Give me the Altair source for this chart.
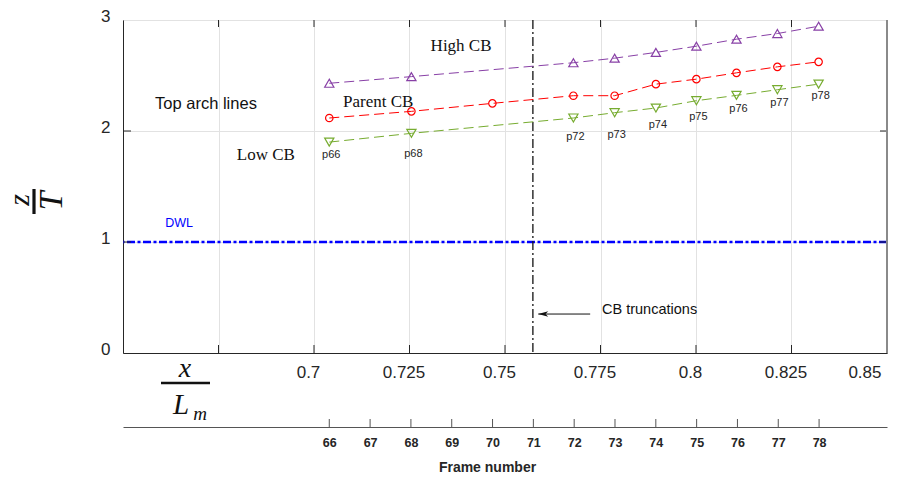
import altair as alt
import pandas as pd

# ---------------- data ----------------
frame_x = {66: 0.7040, 68: 0.7255, 70: 0.7467, 72: 0.7679, 73: 0.7787,
           74: 0.7895, 75: 0.8001, 76: 0.8106, 77: 0.8213, 78: 0.8321}

high_frames = [66, 68, 72, 73, 74, 75, 76, 77, 78]
high_z = [2.43, 2.49, 2.615, 2.656, 2.708, 2.764, 2.827, 2.878, 2.944]

parent_frames = [66, 68, 70, 72, 73, 74, 75, 76, 77, 78]
parent_z = [2.117, 2.177, 2.249, 2.318, 2.318, 2.422, 2.467, 2.524, 2.578, 2.623]

low_frames = [66, 68, 72, 73, 74, 75, 76, 77, 78]
low_z = [1.90, 1.979, 2.117, 2.165, 2.207, 2.273, 2.321, 2.372, 2.422]

point_labels = ["p66", "p68", "p72", "p73", "p74", "p75", "p76", "p77", "p78"]
label_z = [1.781, 1.796, 1.946, 1.967, 2.057, 2.129, 2.195, 2.255, 2.315]

x_ticks = [0.65, 0.675, 0.7, 0.725, 0.75, 0.775, 0.8, 0.825, 0.85]
y_ticks = [0, 1, 2, 3]
frame_ticks = [66, 67, 68, 69, 70, 71, 72, 73, 74, 75, 76, 77, 78]
frame66_x = 0.7040      # x/Lm position of frame 66
frame_step = 0.010685   # x/Lm per frame

dwl_z = 1.0
truncation_x = 0.7573

W, H = 764, 333
SANS = "Liberation Sans"
SERIF = "Liberation Serif"
TXT = "#262626"

# ---------------- tables ----------------
def series(frames, zs, name):
    return pd.DataFrame({"x": [frame_x[f] for f in frames], "z": zs, "s": name})

high_df = series(high_frames, high_z, "High CB")
parent_df = series(parent_frames, parent_z, "Parent CB")
low_df = series(low_frames, low_z, "Low CB")
lab_df = pd.DataFrame({"x": [frame_x[f] for f in low_frames], "z": label_z, "t": point_labels})

xs = alt.Scale(domain=[0.65, 0.85], nice=False, zero=False)
ys = alt.Scale(domain=[0, 3], nice=False, zero=False)

# grid/axes layer
grid_df = pd.DataFrame({"x": x_ticks, "z": [0.0] * len(x_ticks)})
axes_layer = alt.Chart(grid_df).mark_point(opacity=0).encode(
    x=alt.X("x:Q", scale=xs, axis=alt.Axis(
        orient="bottom",
        values=x_ticks, labelExpr="datum.value > 0.69 ? format(datum.value, '.3~f') : ''",
        tickSize=0, labelPadding=11, labelFont=SANS, labelFontSize=17, labelColor=TXT,
        labelOffset=-6, domainColor=TXT, domainWidth=1, grid=True, gridColor="#e2e2e2",
        gridWidth=1, title=None)),
    y=alt.Y("z:Q", scale=ys, axis=alt.Axis(
        orient="left",
        values=y_ticks, format="d", tickSize=0, labelPadding=13, labelFont=SANS,
        labelFontSize=17, labelColor=TXT, labelOffset=-4, domainColor=TXT, domainWidth=1,
        grid=True, gridColor="#e2e2e2", gridWidth=1, title=None)),
)

def enc_x(field="x:Q"):
    return alt.X(field, scale=xs, axis=None)

def enc_y(field="z:Q"):
    return alt.Y(field, scale=ys, axis=None)

# inward ticks
inner_x = pd.DataFrame({"x": x_ticks[1:-1]})
inner_y = pd.DataFrame({"z": y_ticks[1:-1]})
tick_style = dict(color=TXT, strokeWidth=1)
ticks = [
    alt.Chart(inner_x).mark_rule(**tick_style).encode(x=enc_x(), y=alt.value(H), y2=alt.value(H - 8)),
    alt.Chart(inner_x).mark_rule(**tick_style).encode(x=enc_x(), y=alt.value(0), y2=alt.value(7)),
    alt.Chart(inner_y).mark_rule(**tick_style).encode(y=enc_y(), x=alt.value(0), x2=alt.value(8)),
    alt.Chart(inner_y).mark_rule(**tick_style).encode(y=enc_y(), x=alt.value(W), x2=alt.value(W - 7)),
]

# right border (grey in the reference)
right_border = alt.Chart(pd.DataFrame({"a": [0]})).mark_rule(color="#8a8a8a", strokeWidth=2).encode(
    x=alt.value(W), y=alt.value(0), y2=alt.value(H))

# DWL line
dwl = alt.Chart(pd.DataFrame({"z": [dwl_z]})).mark_rule(
    color="#0000ff", strokeWidth=2.5, strokeDash=[8, 2.5, 3, 2.5]).encode(y=enc_y())

# truncation line
trunc = alt.Chart(pd.DataFrame({"x": [truncation_x]})).mark_rule(
    color="#111111", strokeWidth=1.3, strokeDash=[9, 3, 2, 3]).encode(x=enc_x())

def line_layer(df, color, shape, size):
    ln = alt.Chart(df).mark_line(color=color, strokeWidth=1, strokeDash=[10, 5]).encode(
        x=enc_x(), y=enc_y())
    pt = alt.Chart(df).mark_point(color=color, shape=shape, size=size, filled=False,
                                  strokeWidth=1.2, opacity=1).encode(x=enc_x(), y=enc_y())
    return [ln, pt]

series_layers = (line_layer(high_df, "#8840A6", "triangle-up", 85)
                 + line_layer(parent_df, "#ff0000", "circle", 55)
                 + line_layer(low_df, "#77AC30", "triangle-down", 85))

labels = alt.Chart(lab_df).mark_text(font=SANS, fontSize=11, color=TXT, dx=2,
                                     baseline="middle", align="center").encode(
    x=enc_x(), y=enc_y(), text="t:N")

# annotations (in data coordinates)
ann_df = pd.DataFrame({
    "x": [0.7385, 0.7168, 0.6874],
    "z": [2.77, 2.258, 1.781],
    "t": ["High CB", "Parent CB", "Low CB"],
})
ann_serif = alt.Chart(ann_df).mark_text(font=SERIF, fontSize=17, color="#111111",
                                        baseline="middle", align="center").encode(
    x=enc_x(), y=enc_y(), text="t:N")
ann_top = alt.Chart(pd.DataFrame({"x": [0.6584], "z": [2.24], "t": ["Top arch lines"]})).mark_text(
    font=SANS, fontSize=16.5, color="#111111", baseline="middle", align="left").encode(
    x=enc_x(), y=enc_y(), text="t:N")
ann_dwl = alt.Chart(pd.DataFrame({"x": [0.6647], "z": [1.169], "t": ["DWL"]})).mark_text(
    font=SANS, fontSize=12.5, color="#0000ff", baseline="middle", align="center").encode(
    x=enc_x(), y=enc_y(), text="t:N")
ann_cb = alt.Chart(pd.DataFrame({"x": [0.7754], "z": [0.387], "t": ["CB truncations"]})).mark_text(
    font=SANS, fontSize=14.5, color="#111111", baseline="middle", align="left").encode(
    x=enc_x(), y=enc_y(), text="t:N")

arrow_df = pd.DataFrame({"x": [0.7723], "x2": [0.7587], "z": [0.351]})
arrow_shaft = alt.Chart(arrow_df).mark_rule(color="#111111", strokeWidth=1).encode(
    x=enc_x(), x2="x2:Q", y=enc_y())
arrow_head = alt.Chart(arrow_df).mark_point(
    shape="M-1,0 L1,-0.55 L0.45,0 L1,0.55 Z", filled=True, color="#111111", size=100,
    opacity=1, xOffset=5).encode(x=enc_x("x2:Q"), y=enc_y())

# axis titles drawn as fractions
one = pd.DataFrame({"a": [0]})
ytitle = [
    alt.Chart(one).mark_text(text="z", font=SERIF, fontStyle="italic", fontSize=30, angle=270,
                             color="#111111", baseline="middle", align="center").encode(
        x=alt.value(-103), y=alt.value(180)),
    alt.Chart(one).mark_rule(color="#111111", strokeWidth=3.2).encode(
        x=alt.value(-89), y=alt.value(169), y2=alt.value(194)),
    alt.Chart(one).mark_text(text="T", font=SERIF, fontStyle="italic", fontSize=34, angle=270,
                             color="#111111", baseline="middle", align="center").encode(
        x=alt.value(-71), y=alt.value(181)),
]
xtitle = [
    alt.Chart(one).mark_text(text="x", font=SERIF, fontStyle="italic", fontSize=28,
                             color="#111111", baseline="alphabetic", align="center").encode(
        x=alt.value(62), y=alt.value(357)),
    alt.Chart(one).mark_rule(color="#111111", strokeWidth=2.6).encode(
        x=alt.value(38), x2=alt.value(87), y=alt.value(363)),
    alt.Chart(one).mark_text(text="L", font=SERIF, fontStyle="italic", fontSize=29,
                             color="#111111", baseline="alphabetic", align="center").encode(
        x=alt.value(58), y=alt.value(394)),
    alt.Chart(one).mark_text(text="m", font=SERIF, fontStyle="italic", fontSize=19,
                             color="#111111", baseline="alphabetic", align="center").encode(
        x=alt.value(77), y=alt.value(400)),
]

# frame-number axis: a second x axis on the same x/Lm scale, offset below the plot
frame_df = pd.DataFrame({"frame": frame_ticks})
frame_vals = [frame66_x + (f - 66) * frame_step for f in frame_ticks]
frame_layer = alt.Chart(frame_df).transform_calculate(
    fx=f"{frame66_x} + (datum.frame - 66) * {frame_step}"
).mark_rule(color="#555555", strokeWidth=1).encode(
    x=alt.X("fx:Q", scale=xs,
            axis=alt.Axis(orient="bottom", offset=74, values=frame_vals, tickSize=0,
                          labelExpr=f"format(round((datum.value - {frame66_x}) / {frame_step}) + 66, 'd')",
                          domainColor="#555555", domainWidth=1, labelFont=SANS,
                          labelFontWeight="bold", labelFontSize=12.5, labelColor=TXT,
                          labelPadding=9, grid=False, title="Frame number",
                          titleFont=SANS, titleFontWeight="bold", titleFontSize=14,
                          titleColor=TXT, titlePadding=12, titleX=364)),
    y=alt.value(H + 66), y2=alt.value(H + 74),
)

chart = alt.layer(axes_layer, frame_layer, dwl, trunc, *ticks, right_border, *series_layers,
                  labels, ann_serif, ann_top, ann_dwl, ann_cb, arrow_shaft, arrow_head,
                  *ytitle, *xtitle).resolve_axis(x="independent", y="independent").properties(
    width=W, height=H,
    autosize=alt.AutoSizeParams(type="none"),
    padding={"left": 123, "top": 20, "right": 14, "bottom": 131},
    background="white",
).configure_view(stroke=TXT, strokeWidth=1)

chart.save("out.html", embed_options={"renderer": "svg", "actions": False})
